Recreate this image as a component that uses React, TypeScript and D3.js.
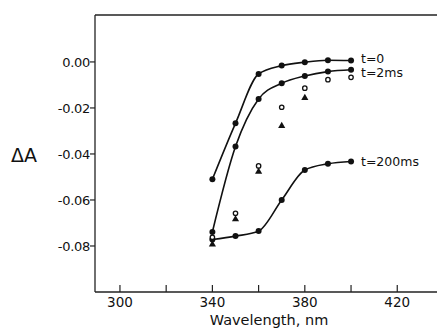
import * as React from 'react'
import { useEffect, useRef } from 'react'
import * as d3 from 'd3'

// wavelengths (nm) sampled
const wavelengths = [340, 350, 360, 370, 380, 390, 400]

// filled-circle curves
const seriesT0 = [-0.051, -0.0267, -0.0052, -0.0016, -0.0001, 0.0007, 0.0006]
const seriesT2 = [-0.0739, -0.0368, -0.0161, -0.0093, -0.0061, -0.0042, -0.0034]
const seriesT200 = [-0.0772, -0.0757, -0.0735, -0.06, -0.047, -0.0443, -0.0433]

// unconnected points
const openCircleX = [340, 350, 360, 370, 380, 390, 400]
const openCircleY = [-0.0762, -0.0658, -0.0452, -0.0197, -0.0114, -0.0077, -0.0067]
const triangleX = [340, 350, 360, 370, 380]
const triangleY = [-0.0793, -0.0684, -0.0477, -0.0278, -0.0156]

const seriesLabels = ['t=0', 't=2ms', 't=200ms']
const labelShift = [-2.5, 3, 0]
const xTicks = [300, 320, 340, 360, 380, 400, 420]
const xTickLabels = [300, 340, 380, 420]
const yTicks = [0, -0.02, -0.04, -0.06, -0.08]

const W = 437
const H = 329

export default function App() {
  const svgRef = useRef<SVGSVGElement>(null)

  useEffect(() => {
    if (!svgRef.current) return
    const svg = d3.select(svgRef.current)
    svg.selectAll('*').remove()

    const font = '"DejaVu Sans", sans-serif'
    const x = d3.scaleLinear().domain([289.2, 437.2]).range([95, 437])
    const y = d3.scaleLinear().domain([-0.1, 0.0204]).range([292, 15])

    const g = svg.append('g')

    // frame: top and left, bottom axis
    g.append('line').attr('x1', 95).attr('x2', W).attr('y1', 15).attr('y2', 15)
      .attr('stroke', '#222').attr('stroke-width', 1.3)
    g.append('line').attr('x1', 95).attr('x2', 95).attr('y1', 15).attr('y2', 292)
      .attr('stroke', '#222').attr('stroke-width', 1.3)
    g.append('line').attr('x1', 95).attr('x2', W).attr('y1', 292).attr('y2', 292)
      .attr('stroke', '#222').attr('stroke-width', 1.3)

    // x ticks (inward)
    xTicks.forEach(t => {
      g.append('line').attr('x1', x(t)).attr('x2', x(t)).attr('y1', 292).attr('y2', 285)
        .attr('stroke', '#222').attr('stroke-width', 1.2)
    })
    xTickLabels.forEach(t => {
      g.append('text').attr('x', x(t)).attr('y', 307)
        .attr('text-anchor', 'middle').attr('font-family', font).attr('font-size', 13.5)
        .attr('fill', '#111').text(String(t))
    })

    // y ticks (outward)
    yTicks.forEach(t => {
      g.append('line').attr('x1', 95).attr('x2', 90).attr('y1', y(t)).attr('y2', y(t))
        .attr('stroke', '#222').attr('stroke-width', 1.2)
      g.append('text').attr('x', 90).attr('y', y(t) + 5)
        .attr('text-anchor', 'end').attr('font-family', font).attr('font-size', 13)
        .attr('letter-spacing', -0.3)
        .attr('fill', '#111').text(t === 0 ? '0.00' : t.toFixed(2))
    })

    // axis titles
    g.append('text').attr('x', 11).attr('y', 162)
      .attr('font-family', font).attr('font-size', 19).attr('fill', '#111').text('ΔA')
    g.append('text').attr('x', 269).attr('y', 325)
      .attr('text-anchor', 'middle').attr('font-family', font).attr('font-size', 14.5)
      .attr('fill', '#111').text('Wavelength, nm')

    const line = d3.line<number>()
      .x((_, i) => x(wavelengths[i]))
      .y(d => y(d))
      .curve(d3.curveMonotoneX)

    const curves = [seriesT0, seriesT2, seriesT200]
    curves.forEach((s, k) => {
      g.append('path').attr('d', line(s)!).attr('fill', 'none')
        .attr('stroke', '#111').attr('stroke-width', 1.6)
      s.forEach((v, i) => {
        g.append('circle').attr('cx', x(wavelengths[i])).attr('cy', y(v)).attr('r', 3)
          .attr('fill', '#111')
      })
      g.append('text').attr('x', 361).attr('y', y(s[s.length - 1]) + 4.5 + labelShift[k])
        .attr('font-family', font).attr('font-size', 12.5).attr('fill', '#111')
        .text(seriesLabels[k])
    })

    openCircleX.forEach((w, i) => {
      g.append('circle').attr('cx', x(w)).attr('cy', y(openCircleY[i])).attr('r', 2.2)
        .attr('fill', '#fff').attr('stroke', '#111').attr('stroke-width', 1.3)
    })

    const tri = d3.symbol().type(d3.symbolTriangle).size(22)
    triangleX.forEach((w, i) => {
      g.append('path').attr('d', tri()!)
        .attr('transform', `translate(${x(w)},${y(triangleY[i])})`)
        .attr('fill', '#111')
    })
  }, [])

  return (
    <svg
      ref={svgRef}
      width={W}
      height={H}
      style={{ position: 'absolute', left: 0, top: 0, background: '#fff' }}
    />
  )
}
